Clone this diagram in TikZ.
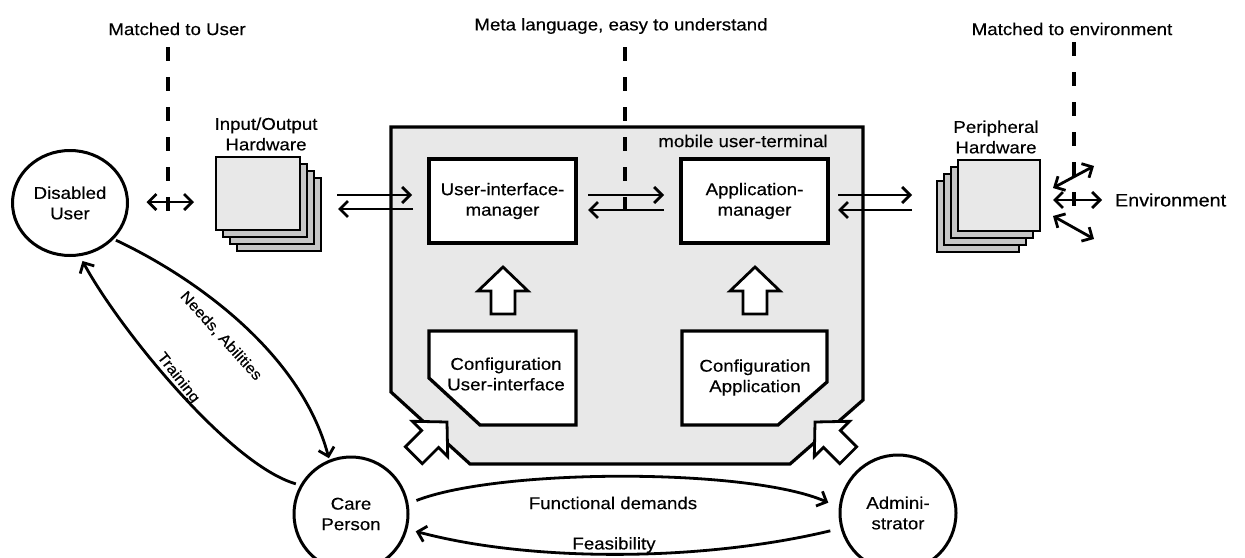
\documentclass[tikz,border=0pt]{standalone}
\usepackage{fontspec}
\setmainfont[FakeStretch=1.1,FakeBold=0.35]{Liberation Sans}
\usetikzlibrary{arrows.meta,calc,shapes.geometric}
\definecolor{panel}{HTML}{E8E8E8}

\tikzset{
  barb/.tip={Straight Barb[length=8pt,width=16pt]},
  arr/.style={line width=2.8pt, -barb},
  dbl/.style={line width=2.8pt, barb-barb},
  dashline/.style={line width=3.6pt, dash pattern=on 14pt off 16pt},
  box/.style={draw, line width=3.3pt, fill=white, minimum width=147pt, minimum height=84pt, align=center},
  actor/.style={draw, line width=3pt, fill=white, align=center},
  layer/.style={draw, line width=2.8pt, fill=gray!45},
  lbl/.style={align=center},
  hollow/.pic={
    \draw[line width=2.8pt, fill=white, line join=miter]
      (0,0) -- (-24,25) -- (-24,12) -- (-47,12) -- (-47,-12) -- (-24,-12) -- (-24,-25) -- cycle;
  },
}

\begin{document}
\begin{tikzpicture}[x=1pt, y=-1pt, font=\fontsize{17}{20.5}\selectfont,
  every node/.append style={inner sep=0pt, outer sep=0pt}]
\useasboundingbox (0,0) rectangle (1245,557);

% terminal housing with chamfered lower corners
\draw[line width=3.2pt, fill=panel, line join=miter]
  (391,127) -- (863,127) -- (863,400) -- (790,464) -- (470,464) -- (391,392) -- cycle;
\node (term) at (743,141) {mobile user-terminal};

% managers
\node[box] (uim) at (502.5,201) {User-interface-\\manager};
\node[box] (am) at (754.5,201) {Application-\\manager};

% configuration blocks
\draw[line width=3.3pt, fill=white, line join=miter]
  (429,331) -- (576,331) -- (576,425) -- (480,425) -- (429,378) -- cycle;
\node[lbl] (cui) at (506,374) {Configuration\\User-interface};
\draw[line width=3.3pt, fill=white, line join=miter]
  (682,331) -- (827,331) -- (827,382) -- (778,425) -- (682,425) -- cycle;
\node[lbl] (cap) at (755,377.5) {Configuration\\Application};

% hollow arrows: configuration feeds the managers, actors feed the configuration
\pic[rotate=90] at (503,267) {hollow};
\pic[rotate=90] at (755,267) {hollow};
\pic[rotate=45] at (447,422) {hollow};
\pic[rotate=135] at (815,422) {hollow};

% input/output hardware stack
\foreach \i in {3,2,1}
  \draw[layer] (216+7*\i,157+7*\i) rectangle ++(84,73);
\node[draw, line width=2.8pt, fill=panel, minimum width=84pt, minimum height=73pt] (io) at (258,193.5) {};
\node[lbl] (iol) at (266,134) {Input/Output\\Hardware};

% peripheral hardware stack
\foreach \i in {3,2,1}
  \draw[layer] (958-7*\i,160+7*\i) rectangle ++(82,71);
\node[draw, line width=2.8pt, fill=panel, minimum width=82pt, minimum height=71pt] (per) at (999,195.5) {};
\node[lbl] (perl) at (996,137) {Peripheral\\Hardware};

% actors
\node[actor, ellipse, minimum width=115pt, minimum height=105pt] (du) at (70,203) {Disabled\\User};
\node[actor, circle, minimum size=114pt] (care) at (351,514) {Care\\Person};
\node[actor, circle, minimum size=116pt] (adm) at (898,513) {Admini-\\strator};
\node[anchor=west, font=\fontsize{18}{21}\selectfont] (env) at (1115,200) {Environment};

% top annotations with their dashed leaders
\node (mu) at (177,29) {Matched to User};
\node (meta) at (621,26) {Meta language, easy to understand};
\node (menv) at (1072,29) {Matched to environment};
\coordinate (muA) at (168,47);
\coordinate (metaA) at (625,47);
\coordinate (menvA) at (1074,42);
\draw[dashline] (muA) -- (muA |- 0,213);
\draw[dashline] (metaA) -- (metaA |- 0,216);
\draw[dashline] (menvA) -- (menvA |- 0,208);

% data flow along the terminal
\draw[dbl, shorten <=19pt, shorten >=22pt] (du.east |- 0,202) -- (io.west |- 0,202);
\draw[arr, shorten <=37pt, shorten >=17pt] (io.east |- 0,195) -- (uim.west |- 0,195);
\draw[arr, shorten <=16pt, shorten >=38pt] (uim.west |- 0,209) -- (io.east |- 0,209);
\draw[arr, shorten <=12pt, shorten >=17pt] (uim.east |- 0,195) -- (am.west |- 0,195);
\draw[arr, shorten <=17pt, shorten >=12pt] (am.west |- 0,210) -- (uim.east |- 0,210);
\draw[arr, shorten <=10pt, shorten >=46pt] (am.east |- 0,195) -- (per.west |- 0,195);
\draw[arr, shorten <=46pt, shorten >=10pt] (per.west |- 0,210) -- (am.east |- 0,210);

% exchange with the environment
\coordinate (envup) at (1094,166);
\coordinate (envdn) at (1094,239);
\draw[dbl, shorten <=13pt, shorten >=13pt] (per.east |- 0,200) -- (env.west);
\draw[dbl] ($(per.east |- 0,188)+(13,0)$) -- (envup);
\draw[dbl] ($(per.east |- 0,216)+(13,0)$) -- (envdn);

% relations between the people
\draw[arr, shorten <=4pt, shorten >=3pt] (du.-40) .. controls (190,275) and (300,350) .. (care.112);
\draw[arr, shorten <=6pt, shorten >=7pt] (care.150) .. controls (230,465) and (120,330) .. (du.-80);
\node[rotate=-48, font=\fontsize{15}{18}\selectfont] (na) at (221,336) {Needs, Abilities};
\node[rotate=-52, font=\fontsize{15}{18}\selectfont] (tr) at (178,378) {Training};

\draw[arr, shorten <=10pt, shorten >=13pt] (care.10) .. controls (500,468) and (750,468) .. (adm.175);
\draw[arr, shorten <=12pt, shorten >=10pt] (adm.195) .. controls (700,562) and (530,562) .. (care.-15);
\node (fd) at (613,503) {Functional demands};
\node (fe) at (614,545) {Feasibility};
\end{tikzpicture}
\end{document}
